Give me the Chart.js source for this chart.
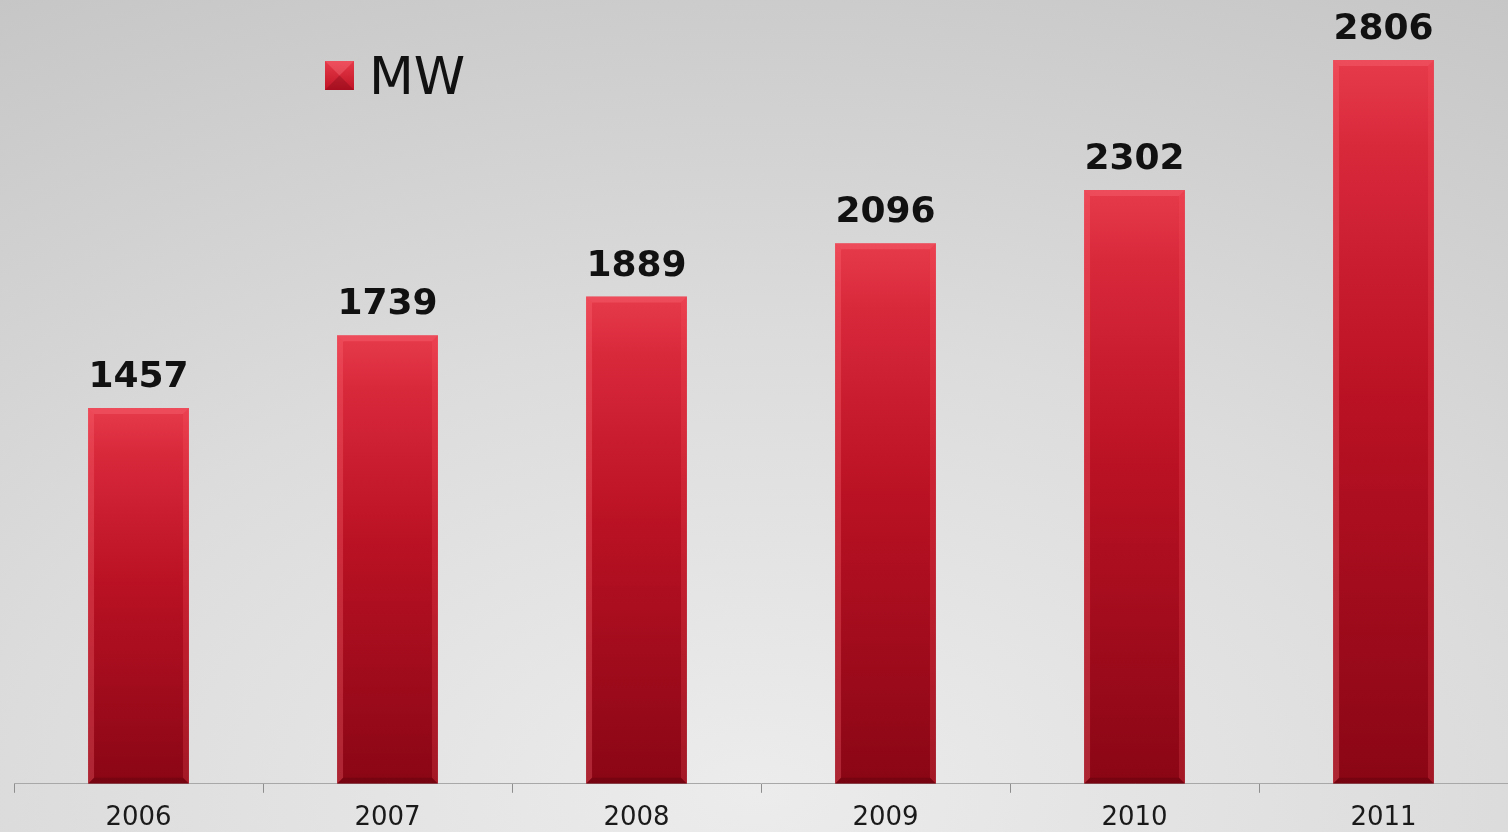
<!DOCTYPE html>
<html>
<head>
<meta charset="utf-8">
<script src="https://cdn.jsdelivr.net/npm/chart.js@4.4.1/dist/chart.umd.min.js"></script>
<style>
  html, body { margin: 0; padding: 0; }
  body {
    width: 1508px; height: 832px; overflow: hidden;
    background: radial-gradient(ellipse 110% 120% at 50% 95%, #ececec 0%, #dcdcdc 45%, #c2c2c2 100%);
  }
  canvas { display: block; }
</style>
</head>
<body>
<canvas id="myChart" width="1508" height="832"></canvas>
<script>
const years = ['2006', '2007', '2008', '2009', '2010', '2011']
const mw = [1457, 1739, 1889, 2096, 2302, 2806]
const seriesName = 'MW'
const yMin = 0
const yMax = 3000

const ctx = document.querySelector('#myChart')

// red gradient for each bar, from its own top down to the axis
function barGradient(context) {
    const chart = context.chart
    const yScale = chart.scales.y
    if (!yScale || context.raw == null) return '#b5101f'
    const top = yScale.getPixelForValue(context.raw)
    const bottom = yScale.getPixelForValue(0)
    if (!isFinite(top) || !isFinite(bottom) || top === bottom) return '#b5101f'
    const g = chart.ctx.createLinearGradient(0, top, 0, bottom)
    g.addColorStop(0, '#e63a4a')
    g.addColorStop(0.12, '#d8293b')
    g.addColorStop(0.45, '#bb1224')
    g.addColorStop(1, '#8a0615')
    return g
}

// bevelled edges on top of the bars
const bevelPlugin = {
    id: 'bevel',
    afterDatasetsDraw(chart) {
        const c = chart.ctx
        const meta = chart.getDatasetMeta(0)
        meta.data.forEach(bar => {
            const { x, y, width, base } = bar.getProps(['x', 'y', 'width', 'base'], true)
            const l = x - width / 2, r = x + width / 2
            const e = 6
            c.save()
            // left edge
            c.beginPath()
            c.moveTo(l, y); c.lineTo(l + e, y + e); c.lineTo(l + e, base - e); c.lineTo(l, base)
            c.closePath()
            c.fillStyle = 'rgba(255,110,120,0.30)'
            c.fill()
            // top edge
            c.beginPath()
            c.moveTo(l, y); c.lineTo(r, y); c.lineTo(r - e, y + e); c.lineTo(l + e, y + e)
            c.closePath()
            c.fillStyle = 'rgba(255,120,130,0.30)'
            c.fill()
            // right edge
            c.beginPath()
            c.moveTo(r, y); c.lineTo(r, base); c.lineTo(r - e, base - e); c.lineTo(r - e, y + e)
            c.closePath()
            c.fillStyle = 'rgba(255,90,100,0.22)'
            c.fill()
            // bottom edge
            c.beginPath()
            c.moveTo(l, base); c.lineTo(r, base); c.lineTo(r - e, base - e); c.lineTo(l + e, base - e)
            c.closePath()
            c.fillStyle = 'rgba(60,0,5,0.25)'
            c.fill()
            c.restore()
        })
    }
}

// value labels above the bars
const valueLabels = {
    id: 'valueLabels',
    afterDatasetsDraw(chart) {
        const c = chart.ctx
        const meta = chart.getDatasetMeta(0)
        const data = chart.data.datasets[0].data
        c.save()
        c.font = 'bold 36px "DejaVu Sans"'
        c.fillStyle = '#111111'
        c.textAlign = 'center'
        c.textBaseline = 'alphabetic'
        meta.data.forEach((bar, i) => {
            c.fillText(String(data[i]), bar.x, bar.y - 21)
        })
        c.restore()
    }
}

// floating legend like the original
const floatLegend = {
    id: 'floatLegend',
    afterDraw(chart) {
        const c = chart.ctx
        const label = chart.data.datasets[0].label
        const bx = 325, by = 61, s = 29
        c.save()
        const g = c.createLinearGradient(0, by, 0, by + s)
        g.addColorStop(0, '#e63a4a')
        g.addColorStop(1, '#c01426')
        c.fillStyle = g
        c.fillRect(bx, by, s, s)
        c.fillStyle = 'rgba(255,120,130,0.35)'
        c.beginPath()
        c.moveTo(bx, by); c.lineTo(bx + s, by); c.lineTo(bx + s / 2, by + s / 2); c.closePath(); c.fill()
        c.fillStyle = 'rgba(90,0,10,0.25)'
        c.beginPath()
        c.moveTo(bx, by + s); c.lineTo(bx + s, by + s); c.lineTo(bx + s / 2, by + s / 2); c.closePath(); c.fill()
        c.font = '52px "DejaVu Sans"'
        c.fillStyle = '#111111'
        c.textBaseline = 'alphabetic'
        c.fillText(label, 369, 94)
        c.restore()
    }
}

new Chart(ctx, {
    type: 'bar',
    data: {
        labels: years,
        datasets: [{
            label: seriesName,
            data: mw,
            backgroundColor: barGradient,
            borderWidth: 0,
            categoryPercentage: 0.81,
            barPercentage: 0.5
        }]
    },
    options: {
        responsive: false,
        animation: false,
        devicePixelRatio: 1,
        layout: {
            padding: { left: 14, top: 10, right: 0, bottom: -12 }
        },
        plugins: {
            legend: { display: false },
            tooltip: { enabled: false }
        },
        scales: {
            x: {
                offset: true,
                grid: {
                    display: true,
                    offset: true,
                    drawOnChartArea: false,
                    drawTicks: true,
                    tickLength: 9,
                    color: '#8e8e8e'
                },
                border: { display: true, color: '#a8a8a8', width: 1 },
                ticks: {
                    color: '#1a1a1a',
                    font: { family: '"DejaVu Sans"', size: 26 },
                    padding: 10
                }
            },
            y: {
                display: false,
                min: yMin,
                max: yMax
            }
        }
    },
    plugins: [bevelPlugin, valueLabels, floatLegend]
})
</script>
</body>
</html>
